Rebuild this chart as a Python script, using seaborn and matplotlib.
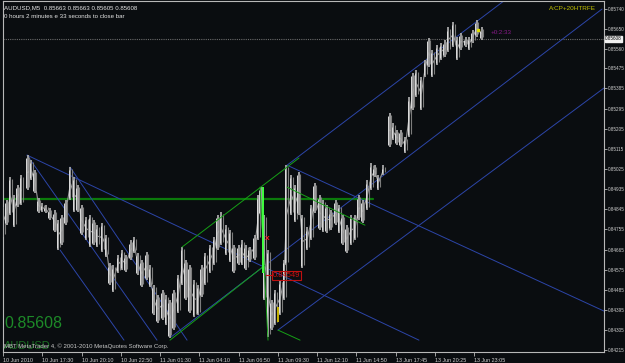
import numpy as np
import pandas as pd
import matplotlib
matplotlib.use("Agg")
import matplotlib.pyplot as plt
import seaborn as sns

# ---------------- data ----------------
bar_idx = [0, 3, 6, 9, 12, 15, 20, 23, 26, 29, 32, 35, 38, 42, 45, 48, 51, 55, 58, 61,
           64, 68, 71, 74, 77, 81, 84, 87, 90, 94, 97, 100, 104, 107, 110, 113, 117, 120, 123, 126,
           130, 133, 136, 139, 143, 146, 149, 152, 156, 159, 162, 165, 169, 172, 175, 178, 182, 185, 188, 192,
           195, 198, 201, 205, 208, 210, 213, 216, 219, 222, 226, 229, 231, 235, 238, 241, 244, 248, 251, 254,
           258, 261, 264, 267, 271, 274, 277, 280, 284, 287, 290, 293, 297, 300, 303, 306, 310, 315, 318, 321,
           324, 328, 331, 334, 337, 341, 344, 347, 350, 354, 357, 360, 363, 367, 370, 373, 377, 380, 383, 386,
           390]
highs = [0.84855, 0.84886, 0.84989, 0.84908, 0.84953, 0.84998, 0.85087, 0.85065, 0.85020, 0.84895,
         0.84873, 0.84864, 0.84850, 0.84841, 0.84797, 0.84819, 0.84886, 0.85034, 0.84989, 0.84953,
         0.84864, 0.84810, 0.84819, 0.84797, 0.84774, 0.84783, 0.84730, 0.84604, 0.84595, 0.84640,
         0.84663, 0.84640, 0.84707, 0.84721, 0.84649, 0.84618, 0.84654, 0.84595, 0.84506, 0.84461,
         0.84484, 0.84461, 0.84439, 0.84484, 0.84551, 0.84676, 0.84618, 0.84595, 0.84528, 0.84506,
         0.84595, 0.84649, 0.84685, 0.84721, 0.84819, 0.84832, 0.84774, 0.84752, 0.84685, 0.84685,
         0.84707, 0.84685, 0.84676, 0.84730, 0.84908, 0.84944, 0.84819, 0.84663, 0.84439, 0.84484,
         0.84528, 0.84618, 0.85042, 0.84998, 0.84953, 0.85011, 0.84819, 0.84765, 0.84864, 0.84962,
         0.84908, 0.84886, 0.84864, 0.84841, 0.84886, 0.84864, 0.84819, 0.84774, 0.84819, 0.84819,
         0.84908, 0.84886, 0.84975, 0.85051, 0.85042, 0.84998, 0.85042, 0.85275, 0.85230, 0.85199,
         0.85199, 0.85168, 0.85346, 0.85454, 0.85467, 0.85436, 0.85512, 0.85610, 0.85557, 0.85579,
         0.85588, 0.85601, 0.85659, 0.85682, 0.85615, 0.85633, 0.85615, 0.85615, 0.85646, 0.85691,
         0.85659]
lows = [0.84721, 0.84774, 0.84819, 0.84765, 0.84855, 0.84864, 0.84931, 0.84975, 0.84917, 0.84828,
        0.84832, 0.84828, 0.84797, 0.84743, 0.84663, 0.84685, 0.84774, 0.84886, 0.84832, 0.84832,
        0.84730, 0.84707, 0.84676, 0.84685, 0.84676, 0.84654, 0.84631, 0.84506, 0.84475, 0.84560,
        0.84573, 0.84564, 0.84618, 0.84649, 0.84551, 0.84497, 0.84528, 0.84497, 0.84372, 0.84336,
        0.84350, 0.84327, 0.84269, 0.84305, 0.84381, 0.84506, 0.84439, 0.84381, 0.84363, 0.84372,
        0.84452, 0.84506, 0.84560, 0.84595, 0.84663, 0.84685, 0.84640, 0.84609, 0.84560, 0.84595,
        0.84595, 0.84573, 0.84609, 0.84618, 0.84707, 0.84819, 0.84439, 0.84274, 0.84305, 0.84327,
        0.84372, 0.84439, 0.84595, 0.84819, 0.84788, 0.84819, 0.84582, 0.84663, 0.84707, 0.84828,
        0.84752, 0.84743, 0.84739, 0.84752, 0.84774, 0.84739, 0.84685, 0.84649, 0.84685, 0.84707,
        0.84797, 0.84783, 0.84841, 0.84931, 0.84989, 0.84931, 0.84998, 0.85123, 0.85154, 0.85132,
        0.85123, 0.85096, 0.85168, 0.85288, 0.85346, 0.85288, 0.85436, 0.85481, 0.85436, 0.85489,
        0.85512, 0.85525, 0.85548, 0.85570, 0.85512, 0.85557, 0.85570, 0.85557, 0.85588, 0.85615,
        0.85601]

x_tick_bars = [0, 32, 64, 96, 128, 160, 192, 224, 256, 288, 320, 352, 384]
x_tick_labels = ["10 Jun 2010", "10 Jun 17:30", "10 Jun 20:10", "10 Jun 22:50", "11 Jun 01:30",
                 "11 Jun 04:10", "11 Jun 06:50", "11 Jun 09:30", "11 Jun 12:10", "11 Jun 14:50",
                 "13 Jun 17:45", "13 Jun 20:25", "13 Jun 23:05"]
y_ticks = [0.85740, 0.85650, 0.85560, 0.85475, 0.85385, 0.85295, 0.85205, 0.85115, 0.85025,
           0.84935, 0.84845, 0.84755, 0.84665, 0.84575, 0.84485, 0.84395, 0.84305, 0.84215]

last_price = 0.85608
level_price = 0.84890          # green horizontal level
level_end_bar = 301.6
label_price = 0.84549          # red price label
label_bar = 219.5
cross_bar, cross_price = 215.2, 0.84716
yellow_bar = [224.1, 0.84408, 0.84341]
highlight_bar = [211.5, 0.84944, 0.84560]   # lime highlighted drop
yellow_dot = [387.1, 0.85646]

# trend lines: (x0, y0, x1, y1)
blue_lines = {
    "b1": (19.6, 0.85087, 339.0, 0.84260),
    "b2": (19.6, 0.85087, 125.5, 0.84260),
    "b3": (54.6, 0.85034, 150.0, 0.84260),
    "b4": (46.5, 0.84663, 98.6, 0.84260),
    "b5": (231.5, 0.85042, 489.8, 0.84390),
    "r_top": (231.5, 0.85042, 409.1, 0.85780),
    "r_mid": (136.9, 0.84274, 488.2, 0.85740),
    "r_low": (224.1, 0.84305, 489.8, 0.85387),
}
green_lines = {
    "g_lower": (136.1, 0.84260, 213.5, 0.84595),
    "g_upper": (145.9, 0.84676, 241.2, 0.85074),
    "g_handle": (209.5, 0.84944, 216.0, 0.84260),
    "g_desc1": (231.5, 0.84944, 295.0, 0.84774),
    "g_desc2": (224.1, 0.84305, 242.1, 0.84260),
}

# ---------------- style ----------------
BG = "#0a0d10"
sns.set_theme(style="dark", rc={"axes.facecolor": BG, "figure.facecolor": BG})
plt.rcParams["font.family"] = ["Liberation Sans", "DejaVu Sans"]

W, H = 625, 363
fig = plt.figure(figsize=(W / 100, H / 100), dpi=100, facecolor=BG)
ax = fig.add_axes([3 / W, 1 - 352 / H, (604 - 3) / W, (352 - 1) / H])
ax.set_facecolor(BG)
ax.set_xlim(0, (604 - 3) / 1.227)
ax.set_ylim(0.84207, 0.85776)

for s in ax.spines.values():
    s.set_color("#b8b8b8")
    s.set_linewidth(0.8)

# current price dotted line
ax.axhline(last_price, color="#6a6a6a", lw=0.8, ls=(0, (1, 1)), zorder=1)

# green level
sns.lineplot(x=[0, level_end_bar], y=[level_price, level_price], ax=ax, color="#0b7a0b",
             lw=1.6, zorder=2, legend=False)

# trend lines
for key, (x0, y0, x1, y1) in blue_lines.items():
    sns.lineplot(x=[x0, x1], y=[y0, y1], ax=ax, color="#2c45a8", lw=0.7, zorder=2,
                 legend=False, sort=False)
for key, (x0, y0, x1, y1) in green_lines.items():
    sns.lineplot(x=[x0, x1], y=[y0, y1], ax=ax, color="#16a016", lw=0.7, zorder=4,
                 legend=False, sort=False)

# price bars
bars = pd.DataFrame({"bar": bar_idx, "high": highs, "low": lows})
bars["mid"] = (bars["high"] + bars["low"]) / 2
bars["seg"] = (bars["bar"].diff().fillna(0) > 4).cumsum()
for _, part in bars.groupby("seg"):
    sns.lineplot(data=part, x="bar", y="mid", ax=ax, color="#9a9a9a", lw=0.8, zorder=3,
                 legend=False, sort=False)
ax.vlines(bars["bar"], bars["low"], bars["high"], color="#a8a8a8", lw=1.3, zorder=3)
ax.vlines(bars["bar"] + 1.3, bars["low"] + 0.00015, bars["high"] - 0.0001,
          color="#7c7c7c", lw=0.8, zorder=3)
ax.vlines(bars["bar"] - 1.2, bars["low"] + 0.0001, bars["high"] - 0.00015,
          color="#dcdcdc", lw=0.7, zorder=3)

# highlighted bars
ax.vlines([highlight_bar[0]], [highlight_bar[2]], [highlight_bar[1]], color="#40ff40",
          lw=1.4, zorder=5)
ax.vlines([yellow_bar[0]], [yellow_bar[2]], [yellow_bar[1]], color="#c8b400", lw=1.4, zorder=5)
ax.plot([yellow_dot[0]], [yellow_dot[1]], marker="s", ms=1.6, color="#e0e000", zorder=6)

# red marks
ax.text(cross_bar, cross_price, "x", color="#ff2020", fontsize=6, fontweight="bold",
        ha="center", va="center", zorder=6)
ax.plot([label_bar - 5, label_bar], [label_price, label_price], color="#d01010", lw=0.8, zorder=6)
ax.text(label_bar + 0.5, label_price, "0.84549", color="#d01010", fontsize=5.4,
        ha="left", va="center", zorder=6,
        bbox=dict(boxstyle="square,pad=0.15", fc="none", ec="#c01010", lw=0.8))

# axes ticks
ax.yaxis.tick_right()
ax.set_yticks(y_ticks)
ax.set_yticklabels([f"{v:.5f}" for v in y_ticks])
ax.set_xticks(x_tick_bars)
ax.set_xticklabels(x_tick_labels)
ax.tick_params(axis="y", direction="out", length=2, width=0.6, color="#b8b8b8",
               labelsize=3.3, labelcolor="#cfcfcf", pad=0.5, right=True, left=False)
ax.tick_params(axis="x", direction="out", length=3, width=0.6, color="#b8b8b8",
               labelsize=3.9, labelcolor="#cfcfcf", pad=1.2, bottom=True)
for lab in ax.get_xticklabels():
    lab.set_ha("left")
ax.grid(False)
ax.set_xlabel("")
ax.set_ylabel("")

# current price box on axis
ax.text(1.002, last_price, "0.85608", transform=ax.get_yaxis_transform(), fontsize=3.3,
        color="#000000", ha="left", va="center", zorder=7, clip_on=False,
        bbox=dict(boxstyle="square,pad=0.1", fc="#f0f0f0", ec="#f0f0f0"))

# texts
fig.text(4 / W, 1 - 8 / H, "AUDUSD,M5  0.85663 0.85663 0.85605 0.85608", color="#e6e6e6",
         fontsize=4.4, ha="left", va="center")
fig.text(4 / W, 1 - 16 / H, "0 hours 2 minutes e 33 seconds to close bar", color="#e6e6e6",
         fontsize=4.4, ha="left", va="center")
fig.text(549 / W, 1 - 9 / H, "A:CP+20HTRFE", color="#c0c000", fontsize=4.6, ha="left",
         va="center")
ax.text(0.811, 1 - 31 / 351, "+0:2:33", transform=ax.transAxes, color="#8a1a8a",
        fontsize=4.4, ha="left", va="center")
ax.text(0.002, 1 - 323 / 351, "0.85608", transform=ax.transAxes, color="#1d8a28",
        fontsize=11.5, ha="left", va="center", zorder=6)
ax.text(0.002, 1 - 345 / 351, "AUDUSD", transform=ax.transAxes, color="#1a6e22",
        fontsize=8, ha="left", va="center", zorder=5)
ax.text(0.002, 1 - 345 / 351, "MBT MetaTrader 4, \u00a9 2001-2010 MetaQuotes Software Corp.",
        transform=ax.transAxes, color="#c8c8c8", fontsize=4.3, ha="left", va="center", zorder=7)

fig.savefig("out.png", dpi=100, facecolor=BG)
